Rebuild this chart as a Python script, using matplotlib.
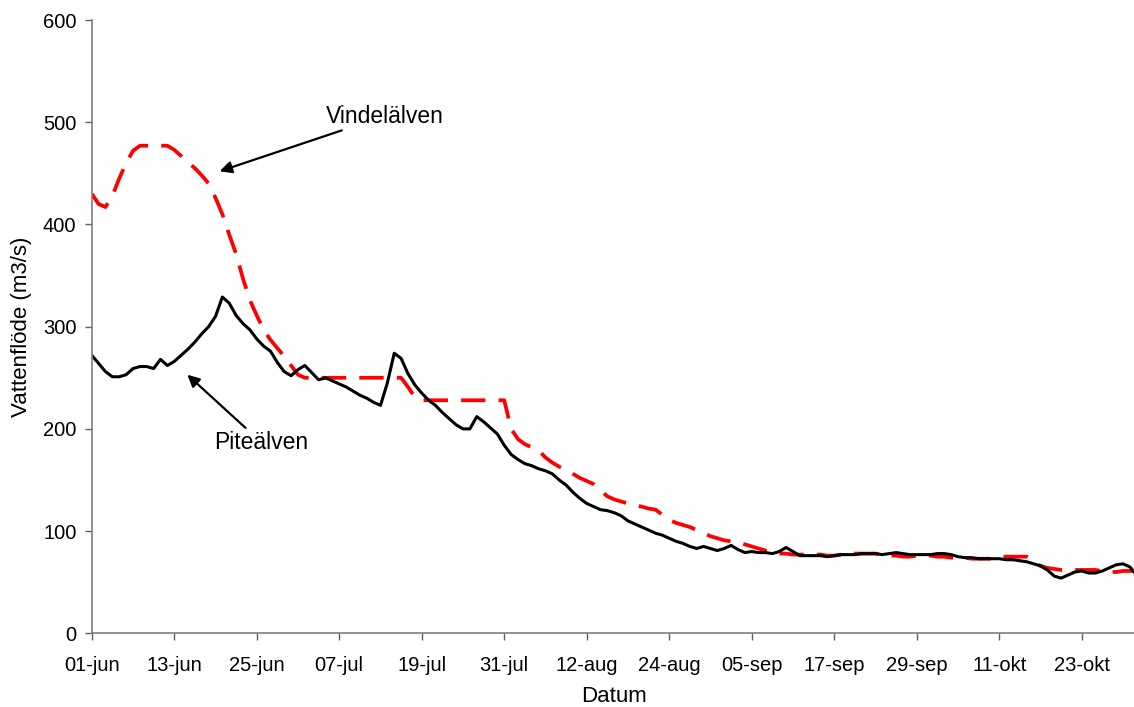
import numpy as np
import matplotlib.pyplot as plt

plt.rcParams['font.family'] = ['Liberation Sans', 'DejaVu Sans']

# daily flow, 1 June - 31 October (m3/s)
vindelalven = [
    430, 420, 417, 428, 445, 460, 472, 477, 477, 477,
    477, 477, 473, 467, 461, 455, 448, 440, 426, 410,
    390, 371, 347, 326, 311, 297, 287, 279, 271, 262,
    253, 250, 250, 250, 250, 250, 250, 250, 250, 250,
    250, 250, 250, 250, 250, 250, 241, 231, 228, 228,
    228, 228, 228, 228, 228, 228, 228, 228, 228, 228,
    228, 200, 190, 185, 182, 179, 172, 167, 163, 160,
    156, 152, 149, 146, 140, 134, 131, 129, 127, 125,
    124, 122, 121, 116, 111, 108, 106, 104, 101, 98,
    95, 93, 91, 90, 89, 87, 85, 83, 81, 79,
    78, 78, 77, 77, 77, 77, 77, 76, 76, 77,
    77, 78, 78, 78, 78, 77, 76, 76, 75, 75,
    76, 76, 76, 75, 75, 74, 74, 74, 73, 73,
    73, 73, 74, 75, 75, 75, 75, 70, 66, 64,
    63, 62, 62, 62, 62, 62, 62, 61, 60, 60,
    61, 61, 61,
]
pitealven = [
    272, 264, 256, 251, 251, 253, 259, 261, 261, 259,
    268, 262, 266, 272, 278, 285, 293, 300, 310, 329,
    323, 311, 303, 297, 288, 281, 276, 265, 256, 252,
    258, 262, 255, 248, 250, 247, 244, 241, 237, 233,
    230, 226, 223, 245, 274, 269, 254, 243, 235, 228,
    223, 216, 210, 204, 200, 200, 212, 207, 201, 195,
    184, 175, 170, 166, 164, 161, 159, 156, 150, 145,
    138, 132, 127, 124, 121, 120, 118, 115, 110, 107,
    104, 101, 98, 96, 93, 90, 88, 85, 83, 85,
    83, 81, 83, 86, 82, 79, 80, 79, 79, 78,
    80, 84, 80, 76, 76, 76, 76, 75, 76, 77,
    77, 77, 78, 78, 78, 77, 78, 79, 78, 77,
    77, 77, 77, 78, 78, 77, 75, 74, 74, 73,
    73, 73, 73, 72, 72, 71, 70, 68, 66, 62,
    56, 54, 57, 60, 61, 59, 59, 61, 64, 67,
    68, 65, 57,
]
tick_labels = ['01-jun', '13-jun', '25-jun', '07-jul', '19-jul', '31-jul',
               '12-aug', '24-aug', '05-sep', '17-sep', '29-sep', '11-okt',
               '23-okt']

days = np.arange(len(pitealven))

fig = plt.figure(figsize=(11.34, 7.07), dpi=100)
ax = fig.add_axes([0.0809, 0.1042, 0.9215, 0.8675])

ax.plot(days, vindelalven, color='#ff0000', lw=2.7, dashes=[6.5, 3.5])
ax.plot(days, pitealven, color='black', lw=2.2)

ax.set_xlim(0, len(days) - 1)
ax.set_ylim(0, 600)
ax.set_xticks(np.arange(0, len(days), 12)[:len(tick_labels)])
ax.set_xticklabels(tick_labels)
ax.set_yticks(np.arange(0, 601, 100))

for side in ['top', 'right']:
    ax.spines[side].set_visible(False)
for side in ['left', 'bottom']:
    ax.spines[side].set_color('#808080')
    ax.spines[side].set_linewidth(1.2)
ax.tick_params(axis='both', labelsize=14.5, length=5, width=1, color='#606060',
               direction='out')
ax.tick_params(axis='x', pad=11)
ax.tick_params(axis='y', pad=6)

ax.set_xlabel('Datum', fontsize=16, labelpad=8)
ax.set_ylabel('Vattenflöde (m3/s)', fontsize=16, labelpad=8)

arrow = dict(arrowstyle='-|>', color='black', lw=1.6, mutation_scale=18,
             shrinkA=0, shrinkB=0)
ax.annotate('Vindelälven', xy=(18.6, 452), xytext=(34, 506),
            fontsize=16.5, va='center', ha='left', arrowprops=arrow)
ax.annotate('Piteälven', xy=(13.9, 253), xytext=(17.8, 187),
            fontsize=16.5, va='center', ha='left', arrowprops=arrow)

fig.savefig('out.png', dpi=100)
